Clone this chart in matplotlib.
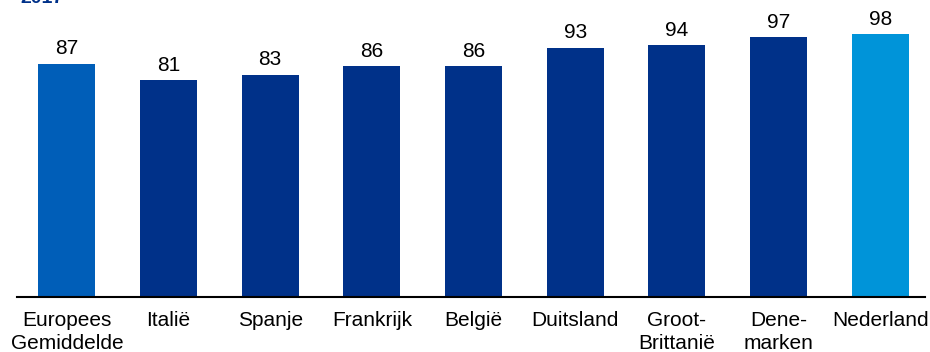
import matplotlib
matplotlib.use("Agg")
from matplotlib import pyplot as plt

landen = ["Europees\nGemiddelde", "Italië", "Spanje", "Frankrijk", "België",
          "Duitsland", "Groot-\nBrittanië", "Dene-\nmarken", "Nederland"]
waarden = [87, 81, 83, 86, 86, 93, 94, 97, 98]
kleuren = ["#005EB8", "#003189", "#003189", "#003189", "#003189",
           "#003189", "#003189", "#003189", "#0094D9"]

plt.rcParams['font.family'] = ['Liberation Sans', 'DejaVu Sans']

fig = plt.figure(figsize=(9.3, 3.52), dpi=100)
ax = fig.add_axes([17 / 930, 55 / 352, 908 / 930, 297 / 352])

x = list(range(len(landen)))
bars = ax.bar(x, waarden, width=0.56, color=kleuren)
for xi, v in zip(x, waarden):
    ax.text(xi, v + 2.0, str(v), ha='center', va='bottom', fontsize=15)

ax.set_xlim(-0.49, 8.44)
ax.set_ylim(0, 110.8)
ax.set_xticks(x)
ax.set_xticklabels(landen, fontsize=15, linespacing=1.3)
ax.tick_params(axis='x', length=0, pad=10)
ax.set_yticks([])
for s in ['top', 'right', 'left']:
    ax.spines[s].set_visible(False)
ax.spines['bottom'].set_linewidth(1.5)

# jaartal bovenaan, valt in het origineel half buiten beeld
fig.text(20 / 930, 1.0 + 10 / 352, "2017", color="#003189", fontsize=14,
         fontweight='bold', ha='left', va='top')

fig.savefig("out.png", dpi=100)
